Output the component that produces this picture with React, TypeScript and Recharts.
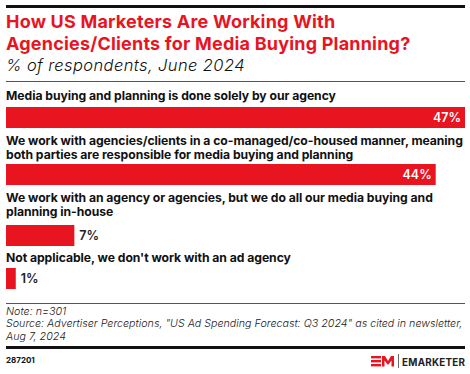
import React from 'react';
import { BarChart, Bar, XAxis, YAxis, LabelList } from 'recharts';

const categories: string[] = [
  'Media buying and planning is done solely by our agency',
  'We work with agencies/clients in a co-managed/co-housed manner, meaning\nboth parties are responsible for media buying and planning',
  'We work with an agency or agencies, but we do all our media buying and\nplanning in-house',
  "Not applicable, we don't work with an ad agency",
];
const values: number[] = [47, 44, 7, 1];
const maxValue = Math.max(...values);

const title = ['How US Marketers Are Working With', 'Agencies/Clients for Media Buying Planning?'];
const subtitle = '% of respondents, June 2024';
const noteLines = [
  'Note: n=301',
  'Source: Advertiser Perceptions, "US Ad Spending Forecast: Q3 2024" as cited in newsletter,',
  'Aug 7, 2024',
];
const chartId = '287201';

const RED = '#e8141f';
const FONT = 'Inter, "Noto Sans", sans-serif';
const W = 459;
const BAR_H = 21;
const labelTops = [89, 134, 191, 251];
const barTops = [107, 164, 225, 268];

const ValueLabel = (props: any) => {
  const { x, y, width, height, value } = props;
  const inside = width > 120;
  return (
    <text
      x={inside ? x + width - 4 : x + width + 5}
      y={y + height / 2}
      dy="0.36em"
      textAnchor={inside ? 'end' : 'start'}
      fill={inside ? '#ffffff' : '#222'}
      fontSize={12.5}
      fontWeight={600}
      fontFamily={FONT}
    >
      {value}%
    </text>
  );
};

const Row = ({ i }: { i: number }) => {
  const data = [{ name: categories[i], value: values[i] }];
  return (
    <>
      <div
        style={{
          position: 'absolute',
          left: 6,
          top: labelTops[i],
          width: 462,
          fontFamily: FONT,
          fontWeight: 700,
          fontSize: 12.2,
          lineHeight: '13.5px',
          color: '#111',
          whiteSpace: 'pre',
          letterSpacing: -0.05,
        }}
      >
        {categories[i]}
      </div>
      <div style={{ position: 'absolute', left: 6, top: barTops[i] }}>
        <BarChart
          width={W}
          height={BAR_H}
          data={data}
          layout="vertical"
          margin={{ top: 0, right: 0, bottom: 0, left: 0 }}
          barCategoryGap={0}
        >
          <XAxis type="number" hide domain={[0, maxValue]} />
          <YAxis type="category" dataKey="name" hide />
          <Bar dataKey="value" fill={RED} isAnimationActive={false}>
            <LabelList dataKey="value" content={<ValueLabel />} />
          </Bar>
        </BarChart>
      </div>
    </>
  );
};

export default function App() {
  return (
    <div
      style={{
        position: 'absolute',
        left: 0,
        top: 0,
        width: 470,
        height: 374,
        background: '#fff',
        overflow: 'hidden',
      }}
    >
      <div style={{ position: 'absolute', left: 6, top: 5, width: 459, height: 2.5, background: '#111' }} />
      <div
        style={{
          position: 'absolute',
          left: 6,
          top: 11,
          fontFamily: FONT,
          fontWeight: 700,
          fontSize: 18,
          lineHeight: '22px',
          color: RED,
          letterSpacing: 0.2,
        }}
      >
        {title.map((t, k) => (
          <div key={k}>{t}</div>
        ))}
      </div>
      <div
        style={{
          position: 'absolute',
          left: 6,
          top: 55,
          fontFamily: FONT,
          fontStyle: 'italic',
          fontWeight: 300,
          fontSize: 16.5,
          lineHeight: '20px',
          color: '#111',
          letterSpacing: 0.4,
        }}
      >
        {subtitle}
      </div>
      <div style={{ position: 'absolute', left: 6, top: 80.5, width: 459, height: 1, background: '#555' }} />
      {values.map((_, i) => (
        <Row key={i} i={i} />
      ))}
      <div style={{ position: 'absolute', left: 6, top: 302.5, width: 459, height: 1, background: '#555' }} />
      <div
        style={{
          position: 'absolute',
          left: 6,
          top: 305.5,
          fontFamily: FONT,
          fontStyle: 'italic',
          fontWeight: 300,
          fontSize: 10.7,
          lineHeight: '12.5px',
          color: '#222',
        }}
      >
        {noteLines.map((t, k) => (
          <div key={k}>{t}</div>
        ))}
      </div>
      <div style={{ position: 'absolute', left: 6, top: 346, width: 459, height: 2.5, background: '#111' }} />
      <div
        style={{
          position: 'absolute',
          left: 6,
          top: 355,
          fontFamily: FONT,
          fontWeight: 700,
          fontSize: 8,
          color: '#111',
        }}
      >
        {chartId}
      </div>
      <svg style={{ position: 'absolute', left: 370, top: 354 }} width={98} height={14}>
        <g fill={RED}>
          <rect x={1} y={2} width={10} height={2.4} />
          <rect x={1} y={6} width={10} height={2.4} />
          <rect x={1} y={10} width={10} height={2.4} />
          <polygon points="12,12.4 12,2 15,2 18,7 21,2 24,2 24,12.4 21.5,12.4 21.5,6.5 18,11 14.5,6.5 14.5,12.4" />
        </g>
        <rect x={28} y={0} width={0.8} height={14} fill="#444" />
        <text
          x={32}
          y={11.5}
          fontFamily={FONT}
          fontWeight={700}
          fontSize={9.8}
          fill="#222"
          textLength={63}
          lengthAdjust="spacing"
        >
          EMARKETER
        </text>
      </svg>
    </div>
  );
}
